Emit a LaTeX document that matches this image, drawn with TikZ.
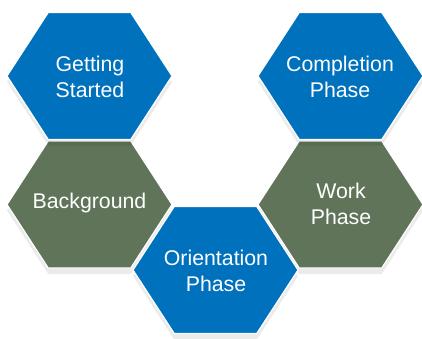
\documentclass[tikz,border=0pt]{standalone}
\usepackage{fontspec}
\setmainfont{Liberation Sans}
\usetikzlibrary{shadows}
\definecolor{phaseblue}{RGB}{0,113,188}
\definecolor{phasegreen}{RGB}{96,116,89}
\tikzset{
  hexblue/.style={fill=phaseblue, draw=white, line width=1.2pt, line join=miter,
    drop shadow={shadow xshift=0pt, shadow yshift=-6pt, opacity=0.08, fill=black}},
  hexgreen/.style={fill=phasegreen, draw=white, line width=1.2pt, line join=miter,
    drop shadow={shadow xshift=0pt, shadow yshift=-6pt, opacity=0.08, fill=black}},
  hextext/.style={text=white, align=center, font=\fontsize{21.3}{26}\selectfont}
}
\begin{document}
\begin{tikzpicture}[x=1pt,y=-1pt]
            \useasboundingbox (0,0) rectangle (422,338);

            % Esagono verde per "Background"
            \draw[hexgreen] (89.5,204.5) +(-82.5,0) -- +(-41.25,63.5) -- +(41.25,63.5)
                -- +(82.5,0) -- +(41.25,-63.5) -- +(-41.25,-63.5) -- cycle;
            \node[hextext] (background) at (89.5,203) {Background};

            % Esagono verde per "Work Phase"
            \draw[hexgreen] (340.5,204.5) +(-82.5,0) -- +(-41.25,63.5) -- +(41.25,63.5)
                -- +(82.5,0) -- +(41.25,-63.5) -- +(-41.25,-63.5) -- cycle;
            \node[hextext] (work) at (341,204) {Work\\Phase};

            % Esagono blu per "Getting Started"
            \draw[hexblue] (89.5,76) +(-82.5,0) -- +(-41.25,63.5) -- +(41.25,63.5)
                -- +(82.5,0) -- +(41.25,-63.5) -- +(-41.25,-63.5) -- cycle;
            \node[hextext] (getting) at (90,77) {Getting\\Started};

            % Esagono blu per "Completion Phase"
            \draw[hexblue] (340.5,76) +(-82.5,0) -- +(-41.25,63.5) -- +(41.25,63.5)
                -- +(82.5,0) -- +(41.25,-63.5) -- +(-41.25,-63.5) -- cycle;
            \node[hextext] (completion) at (340,77) {Completion\\Phase};

            % Esagono blu per "Orientation Phase"
            \draw[hexblue] (215.5,270) +(-82.5,0) -- +(-41.25,63.5) -- +(41.25,63.5)
                -- +(82.5,0) -- +(41.25,-63.5) -- +(-41.25,-63.5) -- cycle;
            \node[hextext] (orientation) at (216,271) {Orientation\\Phase};
        \end{tikzpicture}
\end{document}
